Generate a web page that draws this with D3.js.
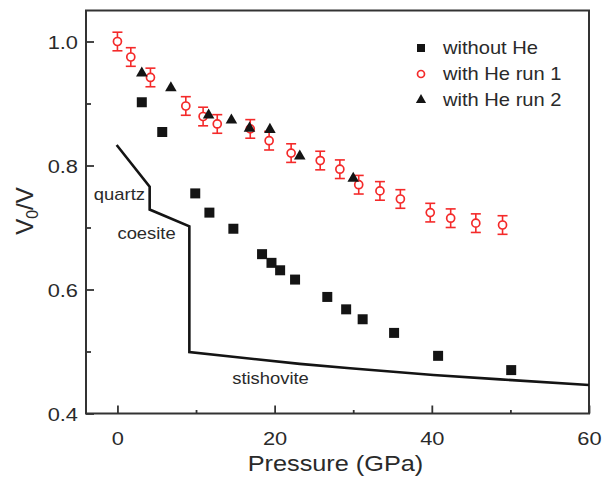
<!DOCTYPE html>
<html>
<head>
<meta charset="utf-8">
<script src="https://cdn.jsdelivr.net/npm/d3@7"></script>
<style>
  body { margin: 0; background: #fff; }
  text { font-family: "Liberation Sans", Arial, Helvetica, sans-serif; fill: #2a2a2a; }
</style>
</head>
<body>
<svg id="chart" width="603" height="477"></svg>
<script>
// Axis ticks
const xTicks = [0, 20, 40, 60];
const xMinorTicks = [10, 30, 50];
const yTicks = [0.4, 0.6, 0.8, 1.0];
const yMinorTicks = [0.5, 0.7, 0.9];

// SiO2 glass compression, without helium
const withoutHeP = [3.1, 5.7, 9.9, 11.7, 14.75, 18.4, 19.6, 20.7, 22.6, 26.7, 29.1, 31.2, 35.2, 40.8, 50.1];
const withoutHeV = [0.902, 0.854, 0.755, 0.724, 0.698, 0.657, 0.643, 0.631, 0.616, 0.588, 0.568, 0.552, 0.530, 0.493, 0.470];

// with He, run 1 (with error bars)
const run1P = [0, 1.7, 4.2, 8.7, 10.9, 12.7, 16.9, 19.3, 22.1, 25.8, 28.3, 30.7, 33.4, 36.0, 39.8, 42.4, 45.6, 49.0];
const run1V = [1.0, 0.975, 0.942, 0.896, 0.879, 0.867, 0.859, 0.840, 0.820, 0.808, 0.794, 0.769, 0.759, 0.746, 0.724, 0.715, 0.707, 0.704];
const run1Err = [0.015, 0.015, 0.015, 0.015, 0.015, 0.015, 0.015, 0.015, 0.015, 0.015, 0.015, 0.015, 0.015, 0.015, 0.015, 0.015, 0.015, 0.015];

// with He, run 2
const run2P = [3.1, 6.8, 11.6, 14.5, 16.8, 19.4, 23.2, 30.0];
const run2V = [0.949, 0.925, 0.881, 0.873, 0.860, 0.858, 0.815, 0.779];

// crystalline phase boundary curve (quartz -> coesite -> stishovite)
const boundaryP = [-0.1, 4.1, 4.1, 9.15, 9.15, 23.2, 29.6, 40.2, 48.7, 60];
const boundaryV = [0.833, 0.766, 0.729, 0.702, 0.499, 0.480, 0.473, 0.462, 0.455, 0.446];

const phaseNames = ["quartz", "coesite", "stishovite"];
const phaseLabelP = [-3.0, 0.0, 14.6];
const phaseLabelV = [0.744, 0.681, 0.448];

const legendLabels = ["without He", "with He run 1", "with He run 2"];

const SX = 1.15;            // horizontal text stretch
const RED = "#f42a2a";
const INK = "#141414";

const svg = d3.select("#chart");
const plotL = 86, plotR = 589, plotT = 10.5, plotB = 413.5;

const x = d3.scaleLinear().domain([-4, 60]).range([plotL, plotR]);
const y = d3.scaleLinear().domain([0.4, 1.05]).range([plotB, plotT]);

function stretch(sel) {
  sel.each(function () {
    const t = d3.select(this);
    const tx = +t.attr("x") || 0, ty = +t.attr("y") || 0;
    t.attr("transform", `translate(${tx},${ty}) scale(${SX},1) translate(${-tx},${-ty})`);
  });
}

// minor ticks (inward)
const gx = svg.append("g").attr("transform", `translate(0,${plotB})`);
gx.call(d3.axisBottom(x).tickValues(xMinorTicks).tickSizeInner(-3.5).tickSizeOuter(0).tickFormat(""));
const gy = svg.append("g").attr("transform", `translate(${plotL},0)`);
gy.call(d3.axisLeft(y).tickValues(yMinorTicks).tickSizeInner(-5).tickSizeOuter(0).tickFormat(""));

// major ticks with labels
const gxMaj = svg.append("g").attr("transform", `translate(0,${plotB})`)
  .call(d3.axisBottom(x).tickValues(xTicks).tickSizeInner(-8).tickSizeOuter(0).tickFormat(d3.format("d")));
const gyMaj = svg.append("g").attr("transform", `translate(${plotL},0)`)
  .call(d3.axisLeft(y).tickValues(yTicks).tickSizeInner(-8).tickSizeOuter(0).tickFormat(d3.format(".1f")));

[gx, gy, gxMaj, gyMaj].forEach(g => {
  g.select(".domain").remove();
  g.selectAll(".tick line").attr("stroke", "#333").attr("stroke-width", 1.8);
});
gxMaj.selectAll(".tick text").attr("y", 18).attr("dy", "0.71em")
  .style("font-size", "19px").attr("fill", "#2a2a2a").call(stretch);
gyMaj.selectAll(".tick text").attr("x", -8).attr("dy", "0.36em")
  .style("font-size", "19px").attr("fill", "#2a2a2a").call(stretch);

// frame
svg.append("rect")
  .attr("x", plotL).attr("y", plotT)
  .attr("width", plotR - plotL).attr("height", plotB - plotT)
  .attr("fill", "none").attr("stroke", "#333").attr("stroke-width", 2);

// phase boundary
const line = d3.line().x(i => x(boundaryP[i])).y(i => y(boundaryV[i]));
svg.append("path")
  .attr("d", line(d3.range(boundaryP.length)))
  .attr("fill", "none").attr("stroke", INK).attr("stroke-width", 2.6)
  .attr("stroke-linejoin", "miter");

svg.append("g").selectAll("text").data(phaseNames).join("text")
  .attr("x", (d, i) => x(phaseLabelP[i]))
  .attr("y", (d, i) => y(phaseLabelV[i]))
  .style("font-size", "16px").attr("fill", "#333")
  .text(d => d).call(stretch);

// run 1: error bars + open circles
const eb = svg.append("g").attr("stroke", RED).attr("stroke-width", 1.6);
run1P.forEach((p, i) => {
  const cx = x(p), y0 = y(run1V[i] - run1Err[i]), y1 = y(run1V[i] + run1Err[i]);
  eb.append("line").attr("x1", cx).attr("x2", cx).attr("y1", y0).attr("y2", y1);
  eb.append("line").attr("x1", cx - 5).attr("x2", cx + 5).attr("y1", y0).attr("y2", y0);
  eb.append("line").attr("x1", cx - 5).attr("x2", cx + 5).attr("y1", y1).attr("y2", y1);
});
svg.append("g").selectAll("circle").data(run1P).join("circle")
  .attr("cx", d => x(d)).attr("cy", (d, i) => y(run1V[i])).attr("r", 4)
  .attr("fill", "#fff").attr("stroke", RED).attr("stroke-width", 1.7);

// without He: filled squares
const square = d3.symbol(d3.symbolSquare, 100);
svg.append("g").selectAll("path").data(withoutHeP).join("path")
  .attr("d", square)
  .attr("transform", (d, i) => `translate(${x(d)},${y(withoutHeV[i])})`)
  .attr("fill", INK);

// run 2: filled triangles
const tri = d3.symbol(d3.symbolTriangle, 58);
svg.append("g").selectAll("path").data(run2P).join("path")
  .attr("d", tri)
  .attr("transform", (d, i) => `translate(${x(d)},${y(run2V[i])})`)
  .attr("fill", INK);

// legend
const legX = 421, legY = [48, 74, 100];
const lg = svg.append("g");
lg.append("path").attr("d", d3.symbol(d3.symbolSquare, 64))
  .attr("transform", `translate(${legX},${legY[0]})`).attr("fill", INK);
lg.append("circle").attr("cx", legX).attr("cy", legY[1]).attr("r", 3.5)
  .attr("fill", "#fff").attr("stroke", RED).attr("stroke-width", 1.7);
lg.append("path").attr("d", d3.symbol(d3.symbolTriangle, 45))
  .attr("transform", `translate(${legX},${legY[2]})`).attr("fill", INK);
lg.selectAll("text").data(legendLabels).join("text")
  .attr("x", 443).attr("y", (d, i) => legY[i] + 6)
  .style("font-size", "17.5px").attr("fill", "#2a2a2a")
  .text(d => d).call(stretch);

// axis titles
svg.append("text").attr("x", (plotL + plotR) / 2 - 2).attr("y", 471)
  .attr("text-anchor", "middle").style("font-size", "22px").attr("fill", "#2a2a2a")
  .text("Pressure (GPa)").call(stretch);

const yt = svg.append("text")
  .attr("transform", "translate(33,211) rotate(-90)")
  .attr("text-anchor", "middle").style("font-size", "24px").attr("fill", "#2a2a2a");
yt.append("tspan").text("V");
yt.append("tspan").attr("dy", 5).style("font-size", "16px").text("0");
yt.append("tspan").attr("dy", -5).text("/V");
</script>
</body>
</html>
